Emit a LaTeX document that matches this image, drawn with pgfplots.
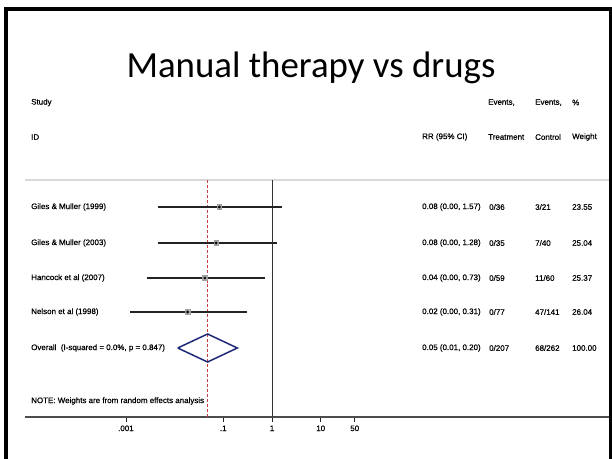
\documentclass[border=0pt]{standalone}
\usepackage{pgfplots}
\pgfplotsset{compat=1.18}
\usepackage{fontspec}
\setmainfont{Liberation Sans}
\newfontfamily\statafont{Liberation Sans}[FakeBold=0.6]
\newfontfamily\titlefont{Carlito}
\definecolor{ciline}{RGB}{35,35,35}
\definecolor{refred}{RGB}{200,60,65}
\definecolor{diamondblue}{RGB}{30,40,120}
\begin{document}
\begin{tikzpicture}
\useasboundingbox (0,0) rectangle (612bp,459bp);
\begin{axis}[
  at={(25bp,42bp)}, anchor=south west, scale only axis,
  width=585bp, height=237bp,
  xmode=log, xmin=8.47e-6, xmax=8.72e6, ymin=0, ymax=237,
  axis x line=bottom, axis y line=none,
  x axis line style={-, draw=black!70, line width=1.4pt},
  xtick={0.001,0.1,1,10,50}, xticklabels={.001,.1,1,10,50},
  xminorticks=false, tick align=outside, major tick length=5bp,
  x tick style={black!85, line width=0.8pt},
  xticklabel style={font=\statafont\fontsize{8}{9}\selectfont, text=black},
  clip=false,
]
% top grey separator
\addplot[black!15, line width=1.2pt] coordinates {(8.47e-6,237) (8.72e6,237)};
% null line
\addplot[black!80, line width=0.8pt] coordinates {(1,0) (1,237)};
% overall estimate line
\addplot[refred, line width=0.9pt, dash pattern=on 3pt off 2pt] coordinates {(0.0475,0) (0.0475,237)};
% confidence intervals
\addplot[ciline, line width=1.3pt] coordinates {(0.0045,210) (1.58,210)};
\addplot[ciline, line width=1.3pt] coordinates {(0.0045,174) (1.25,174)};
\addplot[ciline, line width=1.3pt] coordinates {(0.00267,139) (0.72,139)};
\addplot[ciline, line width=1.3pt] coordinates {(0.00121,105) (0.30,105)};
% weight boxes
\addplot[only marks, mark=square*, mark size=2.3bp, mark options={fill=gray!60, draw=gray!75}] coordinates {(0.083,210) (0.071,174) (0.042,139) (0.0185,105)};
\addplot[only marks, mark=*, mark size=1.2bp, mark options={fill=black, draw=black}] coordinates {(0.083,210) (0.071,174) (0.042,139) (0.0185,105)};
% overall diamond
\addplot[diamondblue, line width=1.5pt] coordinates {(0.0116,69) (0.0475,83) (0.194,69) (0.0475,55) (0.0116,69)};
\end{axis}
\begin{scope}[x=1bp,y=1bp]
\draw[black, line width=3.5bp] (6,-10) -- (6,450) -- (610.5,450) -- (610.5,-10);
\node[anchor=base, inner sep=0] at (311,382) {\titlefont\fontsize{37}{44}\selectfont Manual therapy vs drugs};
\begin{scope}[every node/.style={anchor=west, inner sep=0, font=\statafont\fontsize{8}{9}\selectfont}]
% headers
\node at (31,356.5) {Study};
\node at (488,356.5) {Events,};
\node at (535,356.5) {Events,};
\node at (572,356.5) {\%};
\node at (31,322) {ID};
\node at (422,322) {RR (95\% CI)};
\node at (488,322) {Treatment};
\node at (535,322) {Control};
\node at (572,322) {Weight};
% rows
\node at (31,252) {Giles \& Muller (1999)};
\node at (31,216) {Giles \& Muller (2003)};
\node at (31,181) {Hancock et al (2007)};
\node at (31,147) {Nelson et al (1998)};
\node at (31,111) {Overall\ \ (I-squared = 0.0\%, p = 0.847)};
\node at (31,58) {NOTE: Weights are from random effects analysis};
\node at (422,252) {0.08 (0.00, 1.57)};
\node at (422,216) {0.08 (0.00, 1.28)};
\node at (422,181) {0.04 (0.00, 0.73)};
\node at (422,147) {0.02 (0.00, 0.31)};
\node at (422,111) {0.05 (0.01, 0.20)};
\node at (489,252) {0/36};
\node at (489,216) {0/35};
\node at (489,181) {0/59};
\node at (489,147) {0/77};
\node at (489,111) {0/207};
\node at (535,252) {3/21};
\node at (535,216) {7/40};
\node at (535,181) {11/60};
\node at (535,147) {47/141};
\node at (535,111) {68/262};
\node at (572,252) {23.55};
\node at (572,216) {25.04};
\node at (572,181) {25.37};
\node at (572,147) {26.04};
\node at (572,111) {100.00};
\end{scope}
\end{scope}
\end{tikzpicture}
\end{document}
